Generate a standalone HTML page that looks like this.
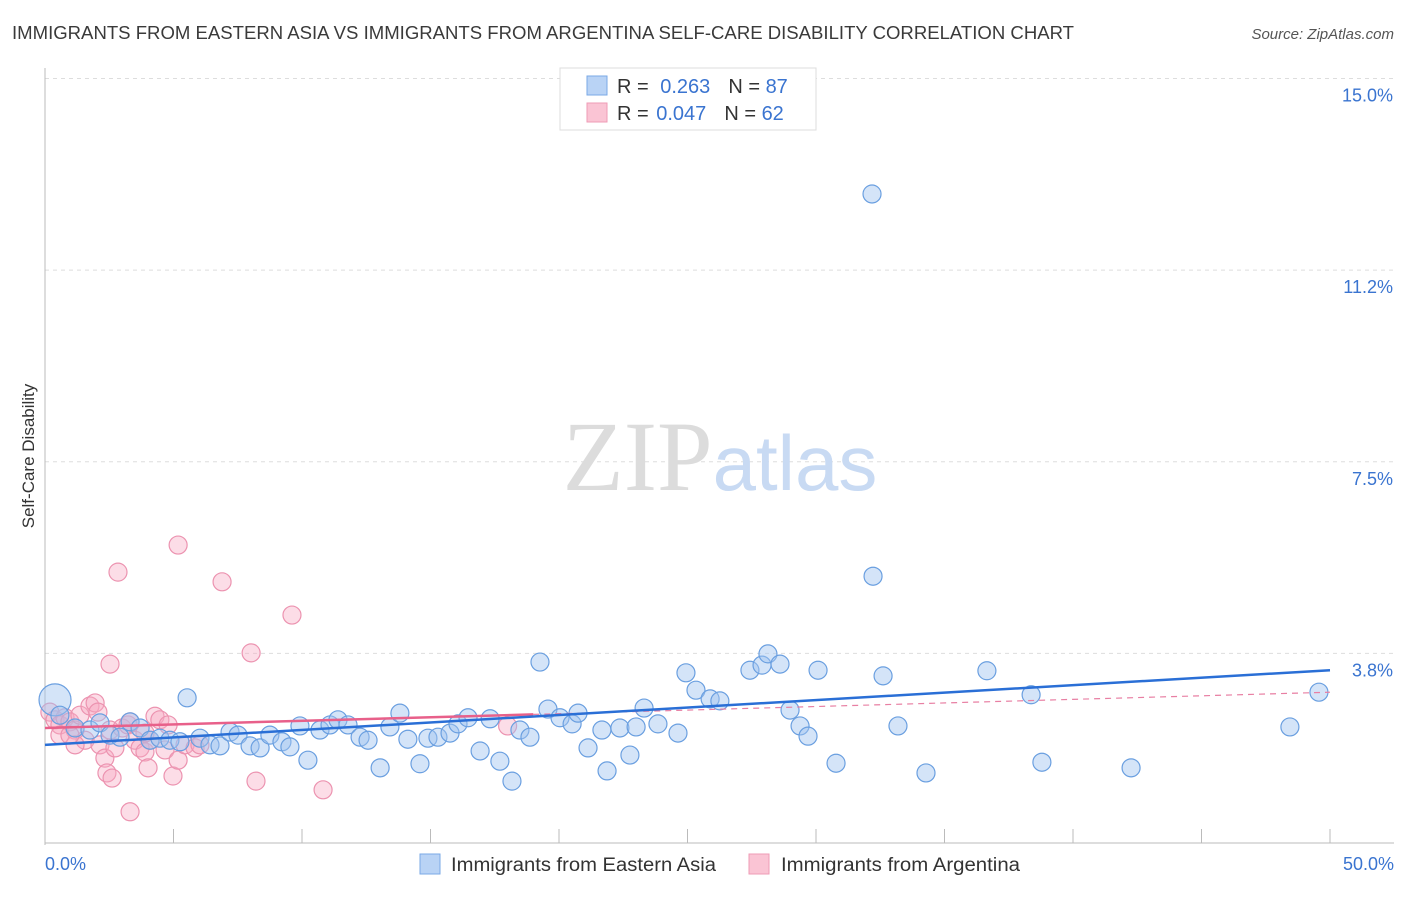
<!DOCTYPE html>
<html><head><meta charset="utf-8"><style>
body{margin:0;background:#fff;font-family:"Liberation Sans",sans-serif;}
svg text{font-family:"Liberation Sans",sans-serif;}
</style></head><body>
<svg id="chart" width="1406" height="892" xmlns="http://www.w3.org/2000/svg">
<text x="12" y="39" font-size="18" fill="#3a3a3a" textLength="1062" lengthAdjust="spacingAndGlyphs">IMMIGRANTS FROM EASTERN ASIA VS IMMIGRANTS FROM ARGENTINA SELF-CARE DISABILITY CORRELATION CHART</text>
<text x="1394" y="39" font-size="15" fill="#555" text-anchor="end" font-style="italic">Source: ZipAtlas.com</text>
<g id="grid"></g>
<text x="720" y="490" font-size="100" text-anchor="middle"><tspan fill="#dcdcdc" font-family="Liberation Serif">ZIP</tspan><tspan fill="#c8daf3" font-size="78">atlas</tspan></text>
<text transform="translate(34,456) rotate(-90)" font-size="17" fill="#333" text-anchor="middle">Self-Care Disability</text>
<g id="marks"></g>
<g>
<rect x="560" y="68" width="256" height="62" fill="#fff" stroke="#ddd"/>
<rect x="587" y="76" width="20" height="19" fill="#b9d3f5" stroke="#7aa8e6"/>
<rect x="587" y="103" width="20" height="19" fill="#fac4d4" stroke="#ef9bb6"/>
<text x="617" y="93" font-size="20" fill="#333">R = <tspan fill="#3a74d0" dx="6">0.263</tspan><tspan dx="18" fill="#333">N = </tspan><tspan fill="#3a74d0">87</tspan></text>
<text x="617" y="120" font-size="20" fill="#333">R = <tspan fill="#3a74d0" dx="2">0.047</tspan><tspan dx="18" fill="#333">N = </tspan><tspan fill="#3a74d0">62</tspan></text>
</g>
<g>
<rect x="420" y="854" width="20" height="20" fill="#b9d3f5" stroke="#7aa8e6"/>
<text x="451" y="871" font-size="19" fill="#333" textLength="265" lengthAdjust="spacingAndGlyphs">Immigrants from Eastern Asia</text>
<rect x="749" y="854" width="20" height="20" fill="#fac4d4" stroke="#ef9bb6"/>
<text x="781" y="871" font-size="19" fill="#333" textLength="239" lengthAdjust="spacingAndGlyphs">Immigrants from Argentina</text>
</g>
</svg>
<script>
const yTicks=[3.75,7.5,11.25,15];
const yTickLabels=["3.8%","7.5%","11.2%","15.0%"];
const xTickLabels=["0.0%","50.0%"];
const blueX=[0.39,0.58,1.17,1.75,2.14,2.53,2.92,3.31,3.70,4.09,4.47,4.86,5.25,5.53,6.03,6.42,6.81,7.20,7.51,7.98,8.37,8.75,9.22,9.53,9.92,10.23,10.70,11.09,11.40,11.79,12.26,12.57,13.04,13.42,13.81,14.12,14.59,14.90,15.29,15.76,16.07,16.46,16.93,17.32,17.70,18.17,18.48,18.87,19.26,19.57,20.04,20.51,20.74,21.13,21.67,21.87,22.37,22.76,23.00,23.31,23.85,24.63,24.94,25.33,25.88,26.26,27.43,27.90,28.13,28.60,28.99,29.38,29.69,30.08,30.78,32.18,32.22,32.61,33.19,34.28,36.65,38.37,38.79,42.26,48.44,49.57];
const blueY=[2.84,2.54,2.29,2.25,2.39,2.15,2.11,2.41,2.29,2.05,2.09,2.05,2.02,2.88,2.09,1.96,1.94,2.21,2.15,1.94,1.90,2.15,2.02,1.92,2.33,1.66,2.25,2.35,2.45,2.35,2.11,2.05,1.51,2.31,2.58,2.07,1.59,2.09,2.11,2.19,2.37,2.49,1.84,2.47,1.64,1.25,2.25,2.11,3.58,2.66,2.49,2.37,2.58,1.90,2.25,1.45,2.29,1.76,2.31,2.68,2.37,2.19,3.37,3.03,2.86,2.82,3.42,3.52,3.74,3.54,2.64,2.33,2.13,3.42,1.60,12.74,5.26,3.31,2.33,1.41,3.41,2.94,1.62,1.51,2.31,2.99];
const pinkX=[0.19,0.39,0.58,0.78,0.97,1.17,1.36,1.56,1.75,1.95,2.06,2.14,2.33,2.41,2.53,2.61,2.72,2.84,2.53,3.00,3.23,3.31,3.50,3.70,3.89,4.01,4.09,4.28,4.47,4.67,4.79,4.98,5.18,5.18,5.45,5.84,6.03,6.89,8.02,8.21,9.61,10.82,3.31,3.89,0.58,1.17,0.97,18.0];
const pinkY=[2.60,2.45,2.35,2.49,2.41,2.25,2.54,2.05,2.72,2.78,2.60,1.96,1.70,1.41,2.25,1.31,1.90,5.34,3.54,2.29,2.35,2.41,2.05,1.90,1.82,1.51,2.05,2.52,2.45,1.86,2.35,1.35,5.87,1.66,1.96,1.90,1.96,5.15,3.76,1.25,4.50,1.08,0.65,2.19,2.15,1.96,2.15,2.33];
const blueTrend=[1.96,3.42];
const pinkTrend=[2.29,2.99];
const X0=45,X1=1330,Y0=845,PXV=51.1;
const sx=v=>X0+(X1-X0)*v/50;
const sy=v=>Y0-v*PXV;
const NS="http://www.w3.org/2000/svg";
function mk(t,a,p){const e=document.createElementNS(NS,t);for(const k in a)e.setAttribute(k,a[k]);p.appendChild(e);return e;}
const grid=document.getElementById('grid'),marks=document.getElementById('marks');
yTicks.forEach((t,i)=>{
 const l=mk('line',{x1:X0,x2:1394,y1:sy(t),y2:sy(t),stroke:'#ddd','stroke-dasharray':'4,4'},grid);
 
 
 const tx=mk('text',{x:1393,y:sy(t)+23,'font-size':18,fill:'#3a74d0','text-anchor':'end'},grid);
 tx.textContent=yTickLabels[i];
 
 
});
const ax=mk('line',{x1:X0,x2:1394,y1:Y0-2,y2:Y0-2,stroke:'#bbb'},grid);


const ay=mk('line',{x1:X0,x2:X0,y1:68,y2:Y0,stroke:'#bbb'},grid);


for(let i=1;i<=10;i++){const x=X0+(1330-X0)*i/10;const t=mk('line',{x1:x,x2:x,y1:Y0-2,y2:Y0-16,stroke:'#bbb'},grid);
 
 }
[[0,'start',45],[50,'end',1394]].forEach((d,i)=>{const t=mk('text',{x:d[2],y:870,'font-size':18,fill:'#3a74d0','text-anchor':d[1]},grid);t.textContent=xTickLabels[i];
 
 });
pinkX.forEach((x,i)=>{const c=mk('circle',{cx:sx(x),cy:sy(pinkY[i]),r:9,fill:'rgba(247,170,196,0.4)',stroke:'#ec93b0','stroke-width':1.2},marks);
 
 });
blueX.forEach((x,i)=>{const c=mk('circle',{cx:sx(x),cy:sy(blueY[i]),r:(i==0?16:9),fill:'rgba(160,196,240,0.45)',stroke:'#6a9fe0','stroke-width':1.2},marks);
 
 });
const pv=x=>pinkTrend[0]+(pinkTrend[1]-pinkTrend[0])*x/50;
const pd=mk('line',{x1:sx(19),y1:sy(pv(19)),x2:sx(50),y2:sy(pv(50)),stroke:'#e87fa3','stroke-width':1.2,'stroke-dasharray':'6,5'},marks);


const ps=mk('line',{x1:sx(0),y1:sy(pv(0)),x2:sx(19),y2:sy(pv(19)),stroke:'#e8608a','stroke-width':2.5},marks);


const bl=mk('line',{x1:sx(0),y1:sy(blueTrend[0]),x2:sx(50),y2:sy(blueTrend[1]),stroke:'#2a6fd6','stroke-width':2.5},marks);


</script>
</body></html>
